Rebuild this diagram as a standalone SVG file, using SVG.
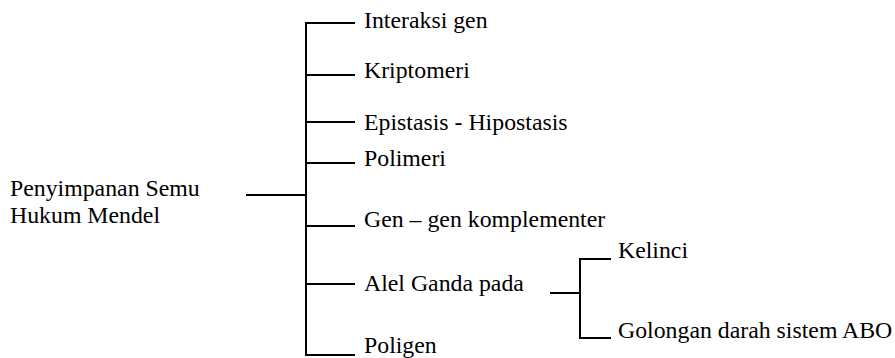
<svg xmlns="http://www.w3.org/2000/svg" width="895" height="358" viewBox="0 0 895 358">
  <style>
    text { font-family: 'Liberation Serif', 'DejaVu Serif', 'Times New Roman', Times, serif; font-size: 23.8px; fill: #000; }
    .ln { stroke: #000; stroke-width: 2; fill: none; stroke-linecap: square; }
  </style>
  <rect width="895" height="358" fill="#fff"/>

  <!-- connectors -->
  <g id="connectors" class="ln">
    <!-- root to main bracket -->
    <line x1="247" y1="195" x2="306" y2="195"/>
    <!-- main bracket spine -->
    <line x1="306" y1="23" x2="306" y2="355"/>
    <!-- main branches -->
    <line x1="306" y1="23" x2="354" y2="23"/>
    <line x1="306" y1="75" x2="354" y2="75"/>
    <line x1="306" y1="122" x2="354" y2="122"/>
    <line x1="306" y1="163" x2="354" y2="163"/>
    <line x1="306" y1="226" x2="354" y2="226"/>
    <line x1="306" y1="284" x2="354" y2="284"/>
    <line x1="306" y1="355" x2="354" y2="355"/>
    <!-- sub bracket for Alel Ganda -->
    <line x1="551" y1="293" x2="580" y2="293"/>
    <line x1="580" y1="259" x2="580" y2="338"/>
    <line x1="580" y1="259" x2="610" y2="259"/>
    <line x1="580" y1="338" x2="610" y2="338"/>
  </g>

  <g id="root">
    <text x="10" y="196" font-family="Liberation Serif">Penyimpanan Semu</text>
    <text x="10" y="223" font-family="Liberation Serif">Hukum Mendel</text>
  </g>
  <g id="interaksi-gen"><text x="364" y="28">Interaksi gen</text></g>
  <g id="kriptomeri"><text x="364" y="78">Kriptomeri</text></g>
  <g id="epistasis"><text x="364" y="130">Epistasis - Hipostasis</text></g>
  <g id="polimeri"><text x="364" y="166">Polimeri</text></g>
  <g id="komplementer"><text x="364" y="227">Gen – gen komplementer</text></g>
  <g id="alel-ganda"><text x="364" y="291">Alel Ganda pada</text></g>
  <g id="poligen"><text x="364" y="353">Poligen</text></g>
  <g id="kelinci"><text x="618" y="258">Kelinci</text></g>
  <g id="abo"><text x="618" y="338">Golongan darah sistem ABO</text></g>
</svg>
